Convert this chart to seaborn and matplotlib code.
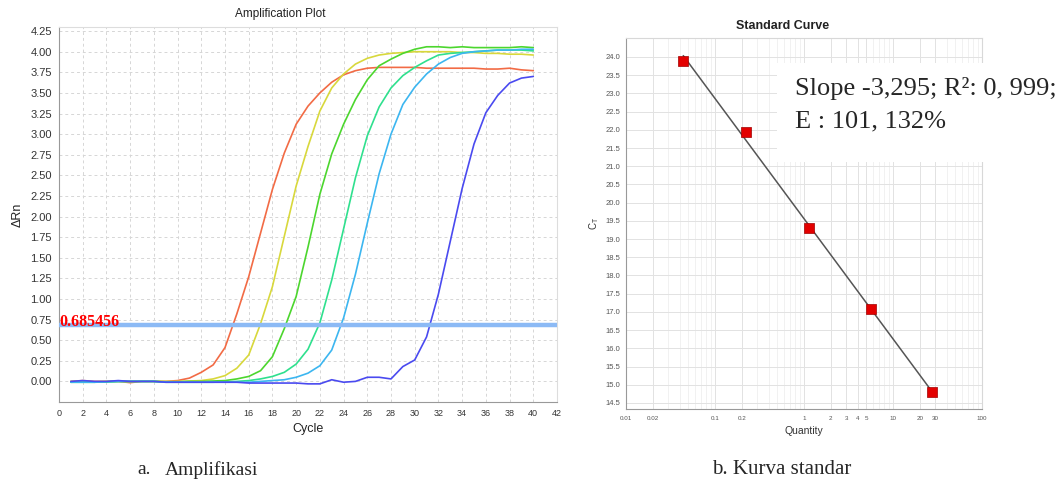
import matplotlib
matplotlib.use('Agg')
import matplotlib.pyplot as plt
from matplotlib.patches import Rectangle
from matplotlib.ticker import LogLocator, NullFormatter
import seaborn as sns
import pandas as pd
import numpy as np

# ---------------- data ----------------
cycles = list(range(1, 41))

orange = [0.00, 0.01, 0.00, 0.00, 0.00, -0.015, 0.00, 0.00, 0.00, 0.01,
          0.04, 0.11, 0.20, 0.41, 0.82, 1.27, 1.80, 2.33, 2.77, 3.12,
          3.34, 3.50, 3.63, 3.72, 3.77, 3.80, 3.81, 3.81, 3.81, 3.81,
          3.80, 3.80, 3.80, 3.80, 3.80, 3.79, 3.79, 3.80, 3.78, 3.77]
yellow = [0.00, 0.00, -0.005, 0.00, 0.00, 0.00, 0.00, 0.00, 0.00, 0.00,
          0.005, 0.01, 0.03, 0.07, 0.16, 0.32, 0.70, 1.15, 1.76, 2.37,
          2.85, 3.28, 3.56, 3.73, 3.85, 3.92, 3.96, 3.98, 3.99, 4.00,
          4.00, 4.00, 4.00, 3.99, 3.99, 3.98, 3.98, 3.97, 3.97, 3.96]
green = [-0.01, -0.01, -0.01, -0.005, 0.00, 0.00, 0.00, 0.00, -0.005, -0.005,
         0.00, 0.00, 0.005, 0.01, 0.03, 0.06, 0.13, 0.30, 0.64, 1.03,
         1.63, 2.27, 2.76, 3.12, 3.42, 3.66, 3.83, 3.91, 3.98, 4.03,
         4.06, 4.06, 4.05, 4.06, 4.05, 4.05, 4.05, 4.05, 4.06, 4.05]
teal = [-0.01, -0.01, -0.01, -0.005, 0.00, 0.00, 0.00, 0.00, -0.01, -0.01,
        -0.01, -0.01, -0.01, -0.005, 0.00, 0.01, 0.03, 0.06, 0.11, 0.21,
        0.39, 0.71, 1.23, 1.85, 2.47, 2.98, 3.33, 3.56, 3.71, 3.81,
        3.89, 3.96, 3.98, 3.99, 4.00, 4.01, 4.02, 4.02, 4.02, 4.01]
cyan = [-0.01, -0.01, -0.01, -0.005, 0.00, 0.00, 0.00, 0.00, -0.01, -0.01,
        -0.01, -0.01, -0.01, -0.01, -0.01, -0.01, 0.00, 0.01, 0.02, 0.05,
        0.10, 0.19, 0.38, 0.77, 1.30, 1.92, 2.52, 3.00, 3.36, 3.57,
        3.73, 3.85, 3.93, 3.98, 4.00, 4.01, 4.02, 4.02, 4.03, 4.03]
blue = [0.00, 0.01, 0.00, 0.00, 0.01, 0.00, 0.00, 0.00, -0.01, -0.01,
        -0.01, -0.01, -0.01, -0.01, -0.01, -0.02, -0.02, -0.02, -0.02, -0.02,
        -0.03, -0.03, 0.02, -0.01, 0.00, 0.05, 0.05, 0.03, 0.18, 0.26,
        0.54, 1.06, 1.70, 2.34, 2.88, 3.26, 3.47, 3.62, 3.68, 3.70]

samples = ['S1', 'S2', 'S3', 'S4', 'S5', 'S6']
curve_colors = ['#f26b45', '#d8d83c', '#4cd62e', '#2fe08e', '#3cb6f0', '#4a4af0']
threshold = 0.685456

quantity = [0.044, 0.225, 1.13, 5.6, 27.7]
ct = [23.90, 21.94, 19.30, 17.08, 14.79]
qty_ticks = [0.01, 0.02, 0.1, 0.2, 1, 2, 3, 4, 5, 10, 20, 30, 100]
qty_labels = ['0.01', '0.02', '0.1', '0.2', '1', '2', '3', '4', '5', '10', '20', '30', '100']

# ---------------- figure ----------------
sns.set_style('white')
plt.rcParams['font.family'] = ['Liberation Sans', 'DejaVu Sans']

W, H = 1064, 495
fig = plt.figure(figsize=(W / 100, H / 100), dpi=100)
ax1 = fig.add_axes([59 / W, 1 - 402 / H, 498 / W, 375 / H])
ax2 = fig.add_axes([626 / W, 1 - 409 / H, 356 / W, 371 / H])

# Amplification plot
df = pd.DataFrame({
    'Cycle': cycles * len(samples),
    'dRn': orange + yellow + green + teal + cyan + blue,
    'Sample': [s for s in samples for _ in cycles],
})
sns.lineplot(data=df, x='Cycle', y='dRn', hue='Sample', palette=curve_colors,
             ax=ax1, legend=False, linewidth=1.2, zorder=3)
ax1.axhline(threshold, color='#8cbaf5', lw=3.2, zorder=4)
ax1.text(0.05, threshold - 0.01, '0.685456', color='red', fontweight='bold',
         family='Liberation Serif', fontsize=11.5, va='baseline', ha='left', zorder=5)

ax1.set_xlim(0, 42)
ax1.set_ylim(-0.25, 4.3)
ax1.set_xticks(range(0, 43, 2))
ax1.set_yticks(np.arange(0, 4.26, 0.25))
ax1.set_yticklabels([f'{v:.2f}' for v in np.arange(0, 4.26, 0.25)])
ax1.tick_params(axis='y', labelsize=8, colors='#333333', length=3, width=0.6, pad=2)
ax1.tick_params(axis='x', labelsize=6.5, colors='#333333', length=3, width=0.6, pad=2)
ax1.grid(True, ls=(0, (3, 3)), color='#d6d6d6', lw=0.7)
for s in ['left', 'bottom']:
    ax1.spines[s].set_color('#999999')
for s in ['top', 'right']:
    ax1.spines[s].set_color('#dddddd')
ax1.set_xlabel('Cycle', fontsize=9, color='#222222')
ax1.set_ylabel('\u0394Rn', fontsize=9, color='#222222')
ax1.xaxis.set_label_coords(0.5, -0.055)
ax1.yaxis.set_label_coords(-0.072, 0.5)

# Standard curve
ax2.set_xscale('log')
sns.regplot(x=quantity, y=ct, logx=True, ci=None, scatter=False, truncate=True,
            ax=ax2, line_kws=dict(color='#555555', lw=1.1, zorder=3))
sns.scatterplot(x=quantity, y=ct, marker='s', s=45, color='#e30000',
                edgecolor='#a00000', linewidth=0.5, ax=ax2, zorder=4)
ax2.set_xlim(0.01, 100)
ax2.set_ylim(14.335, 24.52)
ax2.set_xticks(qty_ticks)
ax2.set_xticklabels(qty_labels)
ax2.xaxis.set_minor_locator(LogLocator(base=10, subs=np.arange(2, 10)))
ax2.xaxis.set_minor_formatter(NullFormatter())
yt = np.arange(14.5, 24.01, 0.5)
ax2.set_yticks(yt)
ax2.set_yticklabels([f'{v:.1f}' for v in yt])
ax2.tick_params(axis='y', labelsize=5.5, colors='#555555', length=2, width=0.5, pad=2)
ax2.tick_params(axis='x', which='major', labelsize=4.5, colors='#555555', length=2, width=0.5, pad=3)
ax2.tick_params(axis='x', which='minor', length=0)
ax2.grid(True, which='major', color='#e2e2e2', lw=0.7)
ax2.grid(True, which='minor', axis='x', color='#ececec', lw=0.5)
for s in ['left', 'bottom']:
    ax2.spines[s].set_color('#999999')
for s in ['top', 'right']:
    ax2.spines[s].set_color('#d8d8d8')
ax2.set_xlabel('Quantity', fontsize=7.5, color='#333333')
ax2.set_ylabel('$\\mathregular{C_T}$', fontsize=7, color='#333333')
ax2.xaxis.set_label_coords(0.5, -0.046)
ax2.yaxis.set_label_coords(-0.07, 0.5)

# titles
fig.text(280 / W, 1 - 14 / H, 'Amplification Plot', fontsize=8.5, ha='center', va='center', color='#222222')
fig.text(783 / W, 1 - 26 / H, 'Standard Curve', fontsize=9, fontweight='bold', ha='center', va='center', color='#222222')

# white box with the fit statistics
fig.add_artist(Rectangle((777 / W, 1 - 162 / H), (W - 777) / W, 99 / H,
                         transform=fig.transFigure, fc='white', ec='none', zorder=5))
fig.text(795 / W, 1 - 88 / H, 'Slope -3,295; R\u00b2: 0, 999;', family='Liberation Serif',
         fontsize=19, va='center', ha='left', zorder=6)
fig.text(795 / W, 1 - 121 / H, 'E : 101, 132%', family='Liberation Serif',
         fontsize=19, va='center', ha='left', zorder=6)

# captions
fig.text(137 / W, 1 - 470 / H, 'a.', family='Liberation Serif', fontsize=14, va='center', ha='left')
fig.text(165 / W, 1 - 470 / H, 'Amplifikasi', family='Liberation Serif', fontsize=14, va='center', ha='left')
fig.text(712 / W, 1 - 470 / H, 'b. Kurva standar', family='Liberation Serif', fontsize=15, va='center', ha='left')

fig.savefig('out.png', dpi=100)
